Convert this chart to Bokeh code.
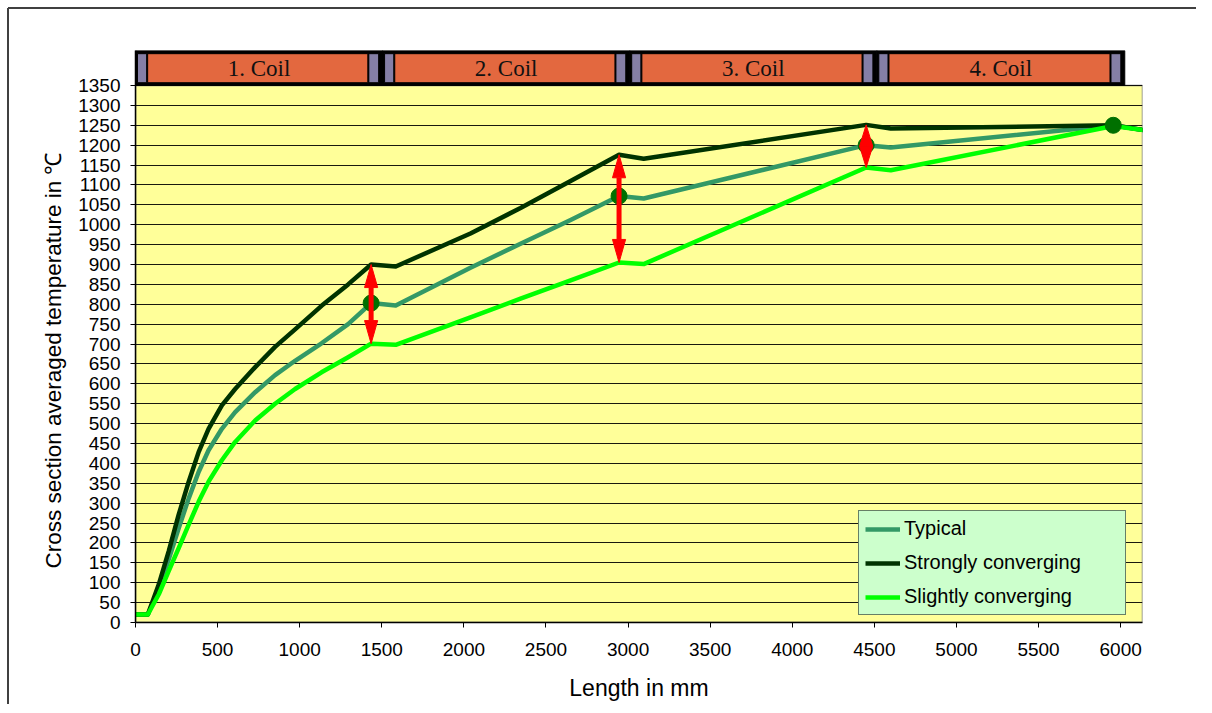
import math
from bokeh.plotting import figure
from bokeh.models import Range1d, FixedTicker, Legend, LegendItem, Title
from bokeh.core.properties import value
from bokeh.embed import file_html
from bokeh.resources import INLINE

# ---------------- data ----------------
x_mm = [0, 75, 142, 202, 263, 324, 385, 445, 526, 607, 729, 850, 972, 1133, 1295,
        1435, 1585, 2040, 2345, 2650, 2945, 3095, 4450, 4600, 5955, 6140]
typical = [20, 20, 85, 158, 237, 312, 379, 433, 487, 529, 579, 622, 658, 702, 750,
           803, 797, 892, 952, 1012, 1072, 1066, 1200, 1194, 1250, 1238]
strongly = [20, 20, 96, 179, 271, 354, 429, 487, 546, 587, 642, 693, 737, 796, 850,
            900, 895, 978, 1042, 1110, 1176, 1166, 1251, 1242, 1250, 1238]
slightly = [20, 20, 71, 129, 187, 246, 304, 354, 408, 454, 508, 550, 587, 629, 667,
            701, 698, 767, 814, 860, 905, 901, 1144, 1137, 1248, 1238]
series_names = ["Typical", "Strongly converging", "Slightly converging"]
series_colors = ["#339966", "#003300", "#00FF00"]

peak_idx = [15, 20, 22, 24]      # marked points on the typical curve
arrow_idx = [15, 20, 22]         # spread arrows (slightly -> strongly)

coil_labels = ["1. Coil", "2. Coil", "3. Coil", "4. Coil"]
coil_start = [0, 1505, 3010, 4515]
coil_end = [1505, 3010, 4515, 6025]

y_ticks = list(range(0, 1351, 50))
x_ticks = list(range(0, 6001, 500))

X_END = 6133
Y_TOP = 1350
BAR_TOP = 1438

# ---------------- figure ----------------
p = figure(width=1196, height=704, x_range=Range1d(0, X_END), y_range=Range1d(0, BAR_TOP),
           output_backend="svg", toolbar_location=None,
           min_border_left=135, min_border_right=54, min_border_top=50, min_border_bottom=82)
p.styles = {
    "background-color": "white",
    "background-image": "linear-gradient(#404040,#404040), linear-gradient(#404040,#404040)",
    "background-size": "100% 2px, 2px 100%",
    "background-position": "8px 7px, 7px 8px",
    "background-repeat": "no-repeat",
}
p.background_fill_color = "white"
p.border_fill_alpha = 0
p.outline_line_color = None

# plot area background
bg = p.quad(left=0, right=X_END, bottom=0, top=Y_TOP, fill_color="#FFFF99",
            line_color="#808080", line_width=1.5)
bg.level = "image"

p.xgrid.visible = False
p.ygrid.ticker = FixedTicker(ticks=y_ticks)
p.ygrid.grid_line_color = "black"
p.ygrid.grid_line_width = 1
p.ygrid.grid_line_alpha = 0.9

p.yaxis.ticker = FixedTicker(ticks=y_ticks)
p.xaxis.ticker = FixedTicker(ticks=x_ticks)
for ax in (p.xaxis, p.yaxis):
    ax.minor_tick_line_color = None
    ax.major_tick_in = 0
    ax.major_tick_out = 5
    ax.major_tick_line_color = "black"
    ax.axis_line_color = "black"
    ax.axis_line_width = 1.5
    ax.major_label_text_font = "Liberation Sans"
    ax.major_label_text_font_size = "19px"
    ax.major_label_text_color = "black"
p.yaxis.major_label_standoff = 10
p.xaxis.major_label_standoff = 15
p.xaxis.axis_label = "Length in mm"
p.xaxis.axis_label_text_font = "Liberation Sans"
p.xaxis.axis_label_text_font_size = "23px"
p.xaxis.axis_label_text_font_style = "normal"
p.xaxis.axis_label_text_color = "black"
p.xaxis.axis_label_standoff = 16

ytitle = Title(text="Cross section averaged temperature in ℃", align="left", offset=54,
               text_font="Liberation Sans", text_font_size="22.5px", text_font_style="normal",
               text_color="black", standoff=20)
p.add_layout(ytitle, "left")

# coil bar
inner_bot, inner_top = Y_TOP + 7, BAR_TOP - 8
p.quad(left=coil_start, right=coil_end, bottom=Y_TOP, top=BAR_TOP,
       fill_color="black", line_color="black")
pl_l = [s + 12 for s in coil_start]
pl_r = [s + 68 for s in coil_start]
pr_l = [e - 84 for e in coil_end]
pr_r = [e - 24 for e in coil_end]
p.quad(left=pl_l + pr_l, right=pl_r + pr_r, bottom=inner_bot, top=inner_top,
       fill_color="#857FA6", line_color="black", line_width=1)
p.quad(left=[s + 74 for s in coil_start], right=[e - 90 for e in coil_end],
       bottom=inner_bot, top=inner_top, fill_color="#E3683F", line_color="black", line_width=1)
p.text(x=[(s + e) / 2 for s, e in zip(coil_start, coil_end)], y=[(Y_TOP + BAR_TOP) / 2] * 4,
       text=coil_labels, text_font=value("Liberation Serif"), text_font_size="23px",
       text_align="center", text_baseline="middle", text_color="#111111")

# series
renderers = []
for ys, col in zip([typical, strongly, slightly], series_colors):
    r = p.line(x_mm, ys, line_color=col, line_width=4.5, line_join="round")
    renderers.append(r)

# markers on typical
p.scatter([x_mm[i] for i in peak_idx], [typical[i] for i in peak_idx],
          size=16, fill_color="#007000", line_color="#007000")

# double arrows
HEAD_LEN = 58    # in temperature units (~23 px)
HALF_W = 40      # in mm (~6.5 px)
xs, ys, s0, s1, sx = [], [], [], [], []
for i in arrow_idx:
    xa, lo, hi = x_mm[i], slightly[i], strongly[i]
    hl = min(HEAD_LEN, (hi - lo) / 2)
    xs.append([xa - HALF_W, xa + HALF_W, xa]); ys.append([hi - hl, hi - hl, hi])
    xs.append([xa - HALF_W, xa + HALF_W, xa]); ys.append([lo + hl, lo + hl, lo])
    if hi - lo > 2 * hl:
        sx.append(xa); s0.append(lo + hl); s1.append(hi - hl)
p.segment(x0=sx, y0=s0, x1=sx, y1=s1, line_color="#FF0000", line_width=5)
p.patches(xs, ys, fill_color="#FF0000", line_color="#FF0000", line_width=1)

legend = Legend(items=[LegendItem(label=n, renderers=[r]) for n, r in zip(series_names, renderers)],
                location=(723, 7))
legend.background_fill_color = "#CCFFCC"
legend.background_fill_alpha = 1
legend.border_line_color = "black"
legend.border_line_width = 1
legend.padding = 6
legend.spacing = 11
legend.margin = 0
legend.label_text_font = "Liberation Sans"
legend.label_text_font_size = "20px"
legend.label_text_color = "black"
legend.label_height = 20
legend.glyph_height = 20
legend.glyph_width = 35
legend.label_standoff = 4
legend.label_width = 215
p.add_layout(legend)

open("out.html", "w").write(file_html(p, INLINE))
